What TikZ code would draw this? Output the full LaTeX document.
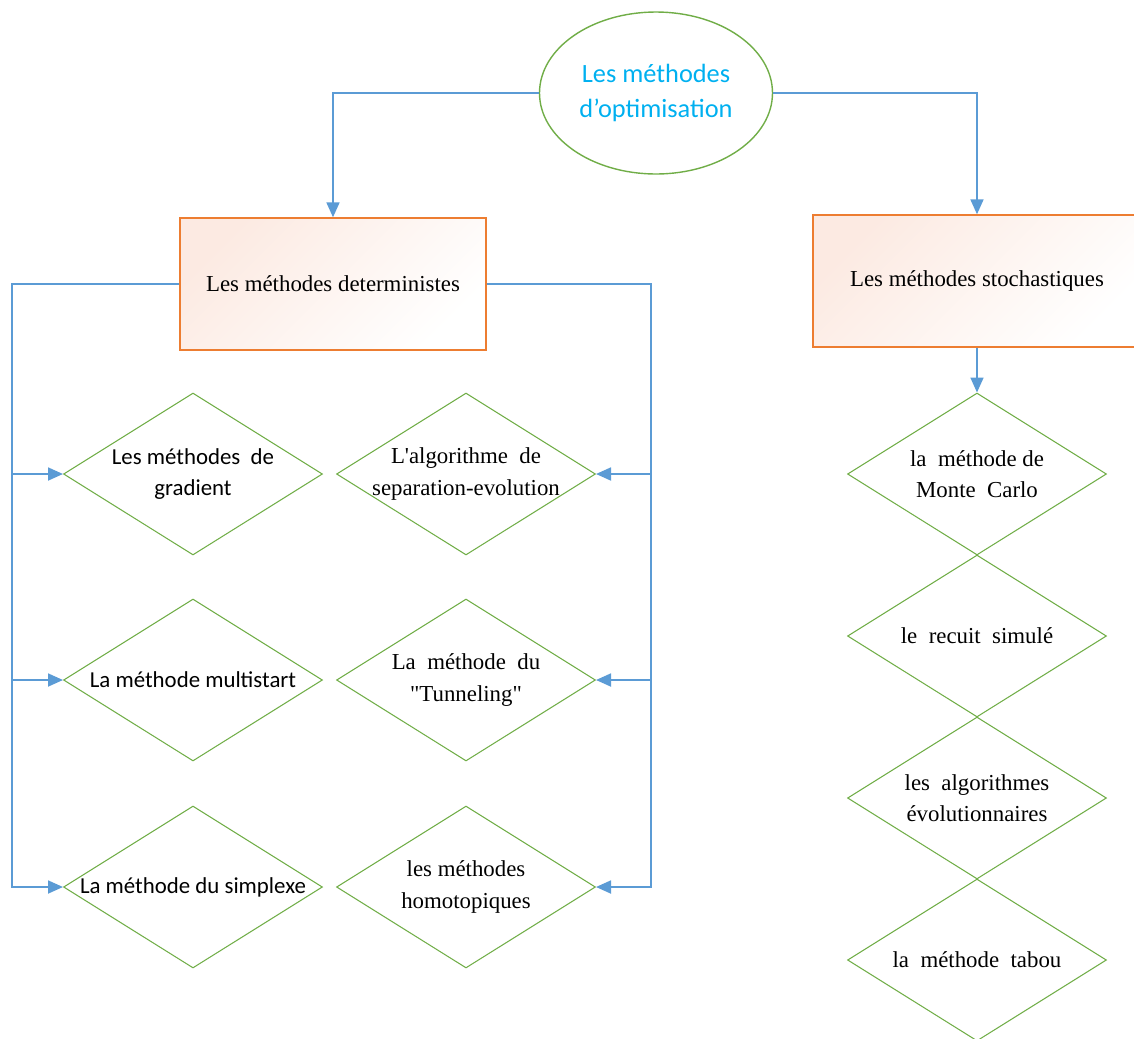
\documentclass[tikz,border=0pt]{standalone}
\usepackage{fontspec}
\setmainfont{Liberation Serif}[Ligatures=TeXReset]
\newfontfamily\calibri{Carlito}
\usetikzlibrary{shapes.geometric,arrows.meta}
\definecolor{linkblue}{HTML}{5B9BD5}
\definecolor{leafgreen}{HTML}{70AD47}
\definecolor{boxorange}{HTML}{ED7D31}
\definecolor{titlecyan}{HTML}{00B0F0}
\definecolor{boxpink}{HTML}{FCEAE2}

\begin{document}
\begin{tikzpicture}[x=0.02cm,y=-0.02cm,
  every node/.style={font=\fontsize{13}{18}\selectfont},
  leaf/.style={diamond,aspect=1.6,draw=leafgreen,line width=0.6pt,minimum width=5.18cm,minimum height=3.24cm,inner sep=-2pt,align=center},
  sans/.style={font=\calibri\fontsize{13}{18}\selectfont},
  family/.style={rectangle,draw=boxorange,line width=0.8pt,minimum width=6.12cm,minimum height=2.64cm,top color=boxpink,middle color=white,bottom color=white,shading angle=45},
  link/.style={draw=linkblue,line width=1pt},
  arrow/.style={link,-{Triangle[length=0.3cm,width=0.26cm]}}]
\useasboundingbox (0,0) rectangle (1134,1039);
\clip (0,0) rectangle (1134,1039);
% racine
\node[ellipse,draw=leafgreen,line width=0.8pt,minimum width=4.64cm,minimum height=3.24cm,align=center,text=titlecyan,font=\calibri\fontsize{15}{20}\selectfont] (root) at (656,93) {Les méthodes\\d’optimisation};
% les deux familles
\node[family] (det) at (333,284) {Les méthodes deterministes};
\node[family,minimum width=6.56cm] (sto) at (977,281) {Les méthodes stochastiques};
% methodes deterministes
\node[leaf,sans] (grad) at (193,474) {Les méthodes\ \ de\\gradient};
\node[leaf,sans] (multi) at (193,680) {La méthode multistart};
\node[leaf,sans] (simp) at (193,887) {La méthode du simplexe};
\node[leaf] (sep) at (466,474) {L'algorithme\ \ de\\separation-evolution};
\node[leaf] (tunnel) at (466,680) {La\ \ méthode\ \ du\\"Tunneling"};
\node[leaf] (homo) at (466,887) {les méthodes\\homotopiques};
% methodes stochastiques
\node[leaf] (mc) at (977,474) {la\ \ méthode de\\Monte\ \ Carlo};
\node[leaf] (rs) at (977,636) {le\ \ recuit\ \ simulé};
\node[leaf] (ae) at (977,798) {les\ \ algorithmes\\évolutionnaires};
\node[leaf] (tabou) at (977,960) {la\ \ méthode\ \ tabou};
% liaisons
\draw[arrow] (root.west) -| (det.north);
\draw[arrow] (root.east) -| (sto.north);
\draw[arrow] (sto.south) -- (mc.north);
\coordinate (lbus) at (12,284);
\coordinate (rbus) at (651,284);
\draw[arrow] (det.west) -- (lbus) |- (simp.west);
\draw[arrow] (lbus |- grad.west) -- (grad.west);
\draw[arrow] (lbus |- multi.west) -- (multi.west);
\draw[arrow] (det.east) -- (rbus) |- (homo.east);
\draw[arrow] (rbus |- sep.east) -- (sep.east);
\draw[arrow] (rbus |- tunnel.east) -- (tunnel.east);
\end{tikzpicture}
\end{document}
